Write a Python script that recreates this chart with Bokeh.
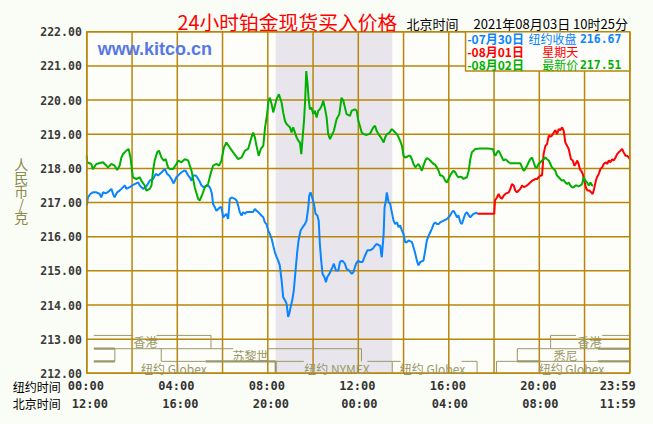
from bokeh.plotting import figure
from bokeh.models import Label, Range1d
from bokeh.core.properties import value
from bokeh.embed import file_html
from bokeh.resources import INLINE

# ---------------- data ----------------
y_ticks = list(range(212, 223))
grid_hours = list(range(0, 25, 2))
label_hours = [0, 4, 8, 12, 16, 20, 24]
ny_labels = ["00:00", "04:00", "08:00", "12:00", "16:00", "20:00", "23:59"]
bj_labels = ["12:00", "16:00", "20:00", "00:00", "04:00", "08:00", "11:59"]

nymex_open = 8.35
nymex_close = 13.5

# 07/30 (blue), NY time in hours
blue_t = [0.00, 0.05, 0.16, 0.27, 0.42, 0.57, 0.64, 0.72, 0.86, 1.01,
          1.09, 1.16, 1.23, 1.34, 1.45, 1.53, 1.68, 1.75, 1.90, 2.00,
          2.12, 2.27, 2.34, 2.49, 2.63, 2.78, 2.93, 3.05, 3.15, 3.30,
          3.37, 3.45, 3.55, 3.64, 3.74, 3.84, 3.96, 4.11, 4.18, 4.29,
          4.37, 4.48, 4.55, 4.63, 4.70, 4.82, 4.88, 4.97, 5.07, 5.17,
          5.29, 5.41, 5.47, 5.53, 5.58, 5.66, 5.73, 5.81, 5.88, 5.95,
          6.03, 6.10, 6.17, 6.25, 6.32, 6.40, 6.54, 6.62, 6.69, 6.76,
          6.84, 6.91, 6.99, 7.06, 7.21, 7.35, 7.43, 7.50, 7.58, 7.65,
          7.72, 7.80, 7.87, 7.94, 8.02, 8.09, 8.17, 8.24, 8.31, 8.39,
          8.46, 8.53, 8.61, 8.68, 8.76, 8.83, 8.90, 8.95, 9.01, 9.08,
          9.15, 9.24, 9.30, 9.36, 9.45, 9.54, 9.64, 9.71, 9.79, 9.83,
          9.89, 9.96, 10.04, 10.11, 10.19, 10.25, 10.30, 10.36, 10.42, 10.50,
          10.57, 10.63, 10.72, 10.79, 10.86, 10.92, 11.01, 11.12, 11.19, 11.29,
          11.41, 11.48, 11.60, 11.71, 11.78, 11.90, 12.00, 12.07, 12.19, 12.30,
          12.40, 12.52, 12.63, 12.74, 12.81, 12.93,
          12.97, 13.01, 13.04, 13.12, 13.16, 13.22, 13.26, 13.34, 13.41, 13.48,
          13.56, 13.63, 13.71, 13.78, 13.85, 13.93, 14.00, 14.07, 14.15, 14.22,
          14.37, 14.44, 14.52, 14.59, 14.66, 14.74, 14.88, 14.96, 15.03, 15.11,
          15.18, 15.25, 15.33, 15.40, 15.47, 15.55, 15.62, 15.77, 15.92, 15.99,
          16.06, 16.14, 16.21, 16.29, 16.36, 16.43, 16.51, 16.58, 16.65, 16.73,
          16.80, 16.88, 16.95, 17.02, 17.10, 17.22, 17.27]
blue_p = [216.91, 217.15, 217.25, 217.30, 217.30, 217.25, 217.15, 217.30, 217.27, 217.35,
          217.40, 217.25, 217.15, 217.30, 217.35, 217.40, 217.50, 217.40, 217.45, 217.50,
          217.54, 217.59, 217.50, 217.40, 217.47, 217.64, 217.69, 217.84, 217.79, 217.88,
          217.93, 217.98, 217.84, 217.79, 217.69, 217.56, 217.74, 217.84, 217.88, 217.93,
          217.93, 217.79, 217.74, 217.64, 217.79, 217.79, 217.74, 217.64, 217.50, 217.45,
          217.50, 217.47, 217.40, 217.25, 216.96, 216.86, 216.76, 216.81, 216.86, 216.86,
          216.57, 216.62, 216.67, 216.52, 217.11, 217.15, 217.11, 217.06, 216.91, 216.72,
          216.62, 216.72, 216.67, 216.72, 216.72, 216.72, 216.81, 216.76, 216.72, 216.67,
          216.62, 216.57, 216.42, 216.37, 216.18, 216.08, 215.94, 215.74, 215.55, 215.40,
          215.30, 215.16, 214.72, 214.23, 214.14, 214.04, 213.65, 213.75, 213.94, 214.14,
          214.43, 215.11, 215.55, 215.89, 216.18, 216.28, 216.37, 216.47, 216.86, 217.20,
          217.30, 217.15, 216.96, 216.67, 216.62, 216.47, 215.79, 215.30, 214.91, 214.82,
          214.67, 214.82, 214.91, 215.01, 215.11, 215.21, 215.01, 215.01, 215.26, 215.30,
          215.21, 215.06, 215.01, 214.91, 214.96, 215.21, 215.30, 215.26, 215.26, 215.45,
          215.60, 215.60, 215.64, 215.74, 215.79, 215.74,
          215.74, 215.50, 215.40, 216.08, 216.86, 217.06, 217.30, 217.01, 216.96, 216.72,
          216.47, 216.37, 216.42, 216.28, 216.33, 216.18, 216.08, 215.84, 215.84, 215.89,
          215.84, 215.69, 215.50, 215.30, 215.16, 215.26, 215.30, 215.60, 215.89, 216.03,
          216.13, 216.23, 216.37, 216.42, 216.37, 216.37, 216.42, 216.47, 216.52, 216.57,
          216.62, 216.72, 216.76, 216.67, 216.57, 216.62, 216.42, 216.37, 216.52, 216.67,
          216.72, 216.62, 216.57, 216.62, 216.67, 216.70, 216.67]

# 08/01 Sunday (red)
red_t = [17.27, 18.01, 18.04, 18.13, 18.20, 18.28, 18.35, 18.42, 18.54, 18.65,
         18.72, 18.79, 18.87, 18.94, 19.01, 19.09, 19.16, 19.24, 19.31, 19.38,
         19.46, 19.53, 19.60, 19.68, 19.75, 19.83, 19.90, 19.97, 20.05, 20.12,
         20.17, 20.19, 20.27, 20.34, 20.42, 20.49, 20.56, 20.64, 20.71, 20.78,
         20.86, 20.93, 21.01, 21.08, 21.15, 21.23, 21.30, 21.35, 21.40, 21.48,
         21.55, 21.61, 21.67, 21.74, 21.79, 21.85, 21.92, 21.99, 22.04, 22.08,
         22.14, 22.22, 22.29, 22.36, 22.42, 22.50, 22.55, 22.63, 22.70, 22.78,
         22.85, 22.94, 23.00, 23.07, 23.14, 23.22, 23.29, 23.37, 23.44, 23.51,
         23.59, 23.66, 23.73, 23.81, 23.88, 23.96, 24.00]
red_p = [216.67, 216.67, 217.06, 217.15, 217.25, 217.15, 217.11, 217.20, 217.27, 217.30,
         217.40, 217.54, 217.50, 217.35, 217.30, 217.35, 217.40, 217.50, 217.45, 217.47,
         217.50, 217.54, 217.59, 217.64, 217.66, 217.69, 217.69, 217.74, 217.79, 217.79,
         218.23, 218.42, 218.66, 218.71, 218.96, 218.93, 218.96, 219.05, 219.12, 219.00,
         219.15, 219.12, 219.20, 219.10, 218.76, 218.66, 218.57, 218.42, 218.27, 218.23,
         218.08, 218.13, 218.23, 218.13, 217.98, 217.93, 217.84, 217.64, 217.50, 217.40,
         217.35, 217.35, 217.30, 217.25, 217.40, 217.64, 217.74, 217.84, 217.98, 218.03,
         218.13, 218.18, 218.13, 218.23, 218.18, 218.27, 218.23, 218.32, 218.42, 218.47,
         218.52, 218.57, 218.47, 218.37, 218.37, 218.32, 218.27]

# 08/02 (green)
green_t = [0.00, 0.01, 0.20, 0.27, 0.42, 0.72, 0.79, 0.94, 1.09, 1.23,
           1.34, 1.45, 1.53, 1.60, 1.75, 1.85, 1.93, 2.00, 2.04, 2.19,
           2.34, 2.41, 2.56, 2.63, 2.78, 2.86, 2.93, 3.00, 3.11, 3.19,
           3.30, 3.40, 3.49, 3.59, 3.67, 3.81, 3.96, 4.04, 4.18, 4.33,
           4.48, 4.63, 4.77, 4.92, 4.99, 5.11, 5.22, 5.36, 5.47, 5.58,
           5.73, 5.85, 5.95, 6.06, 6.17, 6.32, 6.47, 6.69, 6.84, 6.99,
           7.13, 7.28, 7.35, 7.43, 7.50, 7.60, 7.69, 7.80, 7.88, 7.97,
           8.03, 8.09, 8.17, 8.24, 8.39, 8.49, 8.61, 8.68, 8.76, 8.83,
           8.98, 9.05, 9.12, 9.20, 9.27, 9.35, 9.42, 9.48, 9.54, 9.60,
           9.65, 9.70, 9.76, 9.80, 9.86, 9.93, 10.01, 10.08, 10.16, 10.23,
           10.30, 10.38, 10.45, 10.52, 10.60, 10.67, 10.75, 10.82, 10.92, 11.04,
           11.16, 11.26, 11.34, 11.41, 11.48, 11.63, 11.71, 11.85, 11.93, 12.00,
           12.07, 12.15, 12.25, 12.37, 12.52, 12.66, 12.74, 12.81, 12.93,
           12.94, 13.04, 13.12, 13.19, 13.26, 13.38, 13.48, 13.56, 13.63, 13.71,
           13.78, 13.85, 13.93, 14.00, 14.07, 14.15, 14.22, 14.29, 14.37, 14.44,
           14.52, 14.59, 14.66, 14.74, 14.81, 14.88, 14.96, 15.03, 15.11, 15.18,
           15.25, 15.33, 15.40, 15.47, 15.55, 15.62, 15.70, 15.77, 15.84, 15.92,
           15.99, 16.06, 16.14, 16.21, 16.29, 16.36, 16.43, 16.51, 16.58, 16.65,
           16.73, 16.80, 16.88, 16.95, 17.02, 17.10, 17.17, 17.39, 17.69, 17.95,
           18.01, 18.06, 18.13, 18.20, 18.28, 18.35, 18.42, 18.50, 18.57, 18.65,
           18.72, 19.01, 19.16, 19.24, 19.31, 19.38, 19.46, 19.53, 19.60, 19.68,
           19.75, 19.83, 19.90, 19.97, 20.05, 20.12, 20.19, 20.27, 20.34, 20.42,
           20.49, 20.56, 20.64, 20.71, 20.78, 20.86, 20.93, 21.01, 21.08, 21.15,
           21.23, 21.30, 21.37, 21.45, 21.52, 21.60, 21.67, 21.74, 21.82, 21.89,
           21.96, 22.04, 22.11, 22.19, 22.26, 22.33, 22.38]
green_p = [218.37, 218.18, 218.13, 217.98, 218.13, 218.18, 218.13, 218.03, 218.13, 218.08,
           217.95, 218.08, 218.32, 218.42, 218.52, 218.57, 218.32, 217.93, 217.74, 217.69,
           217.74, 217.64, 217.50, 217.35, 217.40, 217.50, 217.93, 218.23, 218.47, 218.52,
           218.32, 218.23, 218.27, 218.03, 217.98, 217.98, 218.13, 218.23, 218.18, 218.27,
           218.23, 217.93, 217.45, 217.11, 217.06, 217.25, 217.45, 217.54, 217.84, 218.08,
           218.13, 218.08, 218.23, 218.61, 218.76, 218.61, 218.47, 218.27, 218.32, 218.52,
           218.57, 218.91, 219.05, 218.91, 218.66, 218.37, 218.57, 218.66, 219.20, 219.59,
           219.98, 220.07, 219.88, 219.64, 220.03, 220.17, 219.93, 219.64, 219.39, 219.30,
           219.20, 219.05, 219.20, 219.05, 218.91, 218.81, 218.76, 218.42, 218.91, 219.39,
           219.98, 220.85, 220.46, 220.07, 219.73, 219.78, 219.59, 219.69, 219.49, 219.69,
           219.73, 219.83, 219.98, 219.78, 219.49, 219.00, 218.86, 218.96, 219.10, 219.44,
           219.59, 220.07, 219.98, 219.78, 219.59, 219.54, 219.69, 219.73, 219.69, 219.39,
           219.25, 219.05, 219.00, 218.98, 219.02, 219.20, 219.25, 219.10, 218.96,
           218.96, 218.86, 218.76, 218.91, 219.00, 219.05, 219.15, 219.10, 219.05, 219.00,
           218.91, 218.81, 218.66, 218.37, 218.32, 218.34, 218.37, 218.37, 218.27, 218.13,
           218.03, 218.08, 218.13, 218.03, 217.93, 218.08, 218.23, 218.30, 218.27, 218.23,
           218.18, 218.13, 218.11, 218.03, 217.93, 217.79, 217.79, 217.74, 217.64, 217.59,
           217.69, 217.79, 217.88, 217.93, 217.88, 217.79, 217.74, 217.76, 217.74, 217.69,
           217.72, 217.74, 217.93, 218.27, 218.47, 218.52, 218.57, 218.58, 218.58, 218.57,
           218.42, 218.37, 218.47, 218.52, 218.42, 218.32, 218.23, 218.27, 218.23, 218.18,
           218.15, 218.15, 218.15, 218.03, 217.93, 217.98, 218.08, 218.18, 218.27, 218.32,
           218.18, 218.03, 218.03, 218.13, 218.18, 218.23, 218.27, 218.32, 218.27, 218.23,
           218.13, 218.03, 217.98, 217.93, 217.79, 217.74, 217.69, 217.64, 217.66, 217.59,
           217.54, 217.59, 217.50, 217.45, 217.45, 217.50, 217.50, 217.47, 217.50, 217.54,
           217.74, 217.64, 217.59, 217.50, 217.59, 217.50, 217.51]

legend_dates = ["-07月30日", "-08月01日", "-08月02日"]
legend_notes = ["纽约收盘", "星期天", "最新价"]
legend_values = ["216.67", "", "217.51"]

# ---------------- styling ----------------
GOLD = "#b8860b"
OLIVE = "#9a9868"
BG = "#fdfdf9"
PAGE = "#fafcf6"
BLUE = "#0a84ff"
RED = "#ff0000"
GREEN = "#00b000"
CJK = "Noto Sans CJK SC"
MONO = "DejaVu Sans Mono"

W, H = 653, 424
FL, FR, FT, FB = 86.3, 629.3, 31.3, 372.8   # plot-box edges in pixels
kx = (FR - FL) / 24.0
ky = (FB - FT) / 10.0
x_range = Range1d(-FL / kx, (W - FL) / kx)
y_range = Range1d(212 - (H - FB) / ky, 222 + FT / ky)

p = figure(width=W, height=H, x_range=x_range, y_range=y_range,
           output_backend="svg", toolbar_location=None,
           x_axis_location=None, y_axis_location=None, min_border=0)
p.min_border_left = p.min_border_right = p.min_border_top = p.min_border_bottom = 0
p.background_fill_color = PAGE
p.border_fill_color = PAGE
p.outline_line_color = None
p.grid.visible = False

# plot box
p.quad(left=[0], right=[24], bottom=[212], top=[222], fill_color=BG, line_color=None)
# NYMEX band
p.quad(left=[nymex_open], right=[nymex_close], bottom=[212], top=[222],
       fill_color="#e8e6ec", line_color=None)
# grid
p.segment(x0=grid_hours, y0=[212] * len(grid_hours), x1=grid_hours, y1=[222] * len(grid_hours),
          line_color=GOLD, line_width=1.5)
p.segment(x0=[0] * len(y_ticks), y0=y_ticks, x1=[24] * len(y_ticks), y1=y_ticks,
          line_color=GOLD, line_width=1.5)

# y tick labels
p.text(x=[-5 / kx] * len(y_ticks), y=y_ticks, text=[f"{v:.2f}" for v in y_ticks],
       text_align="right", text_baseline="middle", text_font=value(MONO),
       text_font_size="11.5px", text_font_style="bold", text_color="#3a3a3a")

# market session brackets
R1, R2, R3, RB = 213.11, 212.72, 212.35, 212.0
thin = [
    (0.31, R1, 2.05, R1), (3.08, R1, 5.49, R1), (5.49, R1, 5.49, R2),
    (1.24, R2, 6.48, R2), (7.99, R2, 12.14, R2), (1.24, R2, 1.24, R3), (12.14, R2, 12.14, R3),
    (3.29, R2, 3.29, R3), (3.29, R3, 5.25, R3),
    (nymex_open, R3, 9.59, R3), (12.4, R3, nymex_close, R3), (nymex_close, R3, nymex_close, RB),
    (nymex_close, R3, 13.87, R3), (16.56, R3, 17.25, R3), (17.25, R3, 17.25, RB),
    (18.11, R3, 18.11, RB), (18.11, R3, 24, R3),
    (19.03, R2, 19.03, R3), (19.03, R2, 24, R2),
    (20.5, R1, 20.5, R2), (20.5, R1, 21.62, R1), (22.78, R1, 24, R1),
]
thick = [
    (0.31, R2, 1.24, R2), (0.31, R3, 1.24, R3), (5.25, R3, nymex_open, R3),
    (nymex_open, R3, nymex_open, RB), (19.03, R3, 20.05, R3), (22.6, R3, 24, R3), (22.6, R2, 24, R2),
]
for segs, w in ((thin, 1), (thick, 2.2)):
    p.segment(x0=[s[0] for s in segs], y0=[s[1] for s in segs],
              x1=[s[2] for s in segs], y1=[s[3] for s in segs],
              line_color=OLIVE, line_width=w)


def lab(x, y, text, **kw):
    opts = dict(text_font=CJK, text_font_size="12px", text_color="black",
                text_align="left", text_baseline="middle")
    opts.update(kw)
    p.add_layout(Label(x=x, y=y, text=text, **opts))


mkt_y_top = 212.92
mkt_y_mid = 212.53
mkt_y_bot = 212.15
for x, y, t in [(2.59, mkt_y_top, "香港"), (7.24, mkt_y_mid, "苏黎世"), (3.85, mkt_y_bot, "纽约 Globex"),
                (11.06, mkt_y_bot, "纽约 NYMEX"), (15.28, mkt_y_bot, "纽约 Globex"),
                (21.16, mkt_y_mid, "悉尼"), (22.22, mkt_y_top, "香港"), (21.42, mkt_y_bot, "纽约 Globex")]:
    lab(x, y, t, text_align="center", text_color=OLIVE, text_font_size="12px")

# price lines
p.line(blue_t, blue_p, line_color=BLUE, line_width=2)
p.line(red_t, red_p, line_color=RED, line_width=2)
p.line(green_t, green_p, line_color=GREEN, line_width=2)

# plot box outline
p.quad(left=[0], right=[24], bottom=[212], top=[222], fill_color=None, line_color=GOLD, line_width=1.5)

# legend box
p.quad(left=[16.74], right=[24], bottom=[220.85], top=[222], fill_color=BG,
       line_color=GOLD, line_width=1.5)
row_y = [221.79, 221.42, 221.03]
row_col = [BLUE, RED, GREEN]
note_x = [19.52, 20.13, 20.13]
for i in range(3):
    lab(16.81, row_y[i], legend_dates[i], text_color=row_col[i], text_font_style="bold")
    lab(note_x[i], row_y[i], legend_notes[i], text_color=row_col[i])
    if legend_values[i]:
        lab(23.63, row_y[i], legend_values[i], text_color=row_col[i], text_align="right",
            text_font=MONO, text_font_style="bold", text_font_size="11.5px")

# title & header
lab(4.01, 222.30, "24小时铂金现货买入价格", text_color=RED, text_font_size="19.8px")
lab(14.13, 222.23, "北京时间", text_font_size="13px")
lab(17.09, 222.23, "2021年08月03日 10时25分", text_font_size="13px")

# watermark
lab(0.48, 221.50, "www.kitco.cn", text_font="Liberation Sans", text_font_size="18px",
    text_font_style="bold", text_color="#5578e6")

# y-axis title (vertical stacked characters)
for ch, y in zip("人民币/克", [218.13, 217.74, 217.35, 216.96, 216.57]):
    lab(-2.895, y, ch, text_align="center", text_color="#8c8a4a", text_font_size="14px")

# x labels (two time rows)
lab(-3.27, 211.60, "纽约时间")
lab(-3.27, 211.11, "北京时间")
for i, h in enumerate(label_hours):
    if h == 24:
        kw = dict(text_align="right", x_offset=6)
        kw2 = kw
    else:
        kw = dict(text_align="center", x_offset=-1)
        kw2 = dict(text_align="center", x_offset=3 if h < 10 else 1)
    lab(h, 211.64, ny_labels[i], text_font=MONO, text_font_style="bold",
        text_font_size="12px", text_color="#333333", **kw)
    lab(h, 211.09, bj_labels[i], text_font=MONO, text_font_style="bold",
        text_font_size="12px", text_color="#333333", **kw2)

open("out.html", "w").write(file_html(p, INLINE))
